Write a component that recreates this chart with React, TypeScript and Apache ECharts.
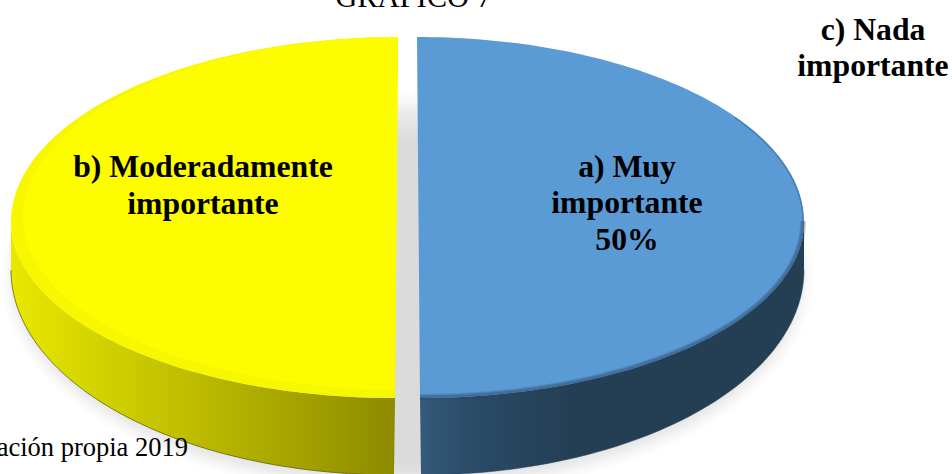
import React, { useEffect, useRef } from "react";
import * as echarts from "echarts";

const titleText = "GRAFICO 7";
const sourceText = "ación propia 2019";
const categories = ["a) Muy\nimportante\n50%", "b) Moderadamente\nimportante", "c) Nada\nimportante"];
const values = [50, 50, 0];
const topColors = ["#5b9bd5", "#f7f700", "#a5a5a5"];
const innerColors = ["#5b9bd5", "#fdfd00", "#a5a5a5"];
const sideStops: [number, string][][] = [
  [[0, "#36597a"], [0.15, "#2a4a66"], [0.4, "#243e54"], [1, "#243e54"]],
  [[0, "#e8e800"], [0.3, "#cccc00"], [0.62, "#b0ae00"], [1, "#8e8a00"]],
  [[0, "#666666"], [1, "#666666"]],
];
const edgeColors = ["rgba(40,70,100,0.5)", "rgba(95,90,0,0.75)", "#666666"];
const labelAnchors = [[627, 202.5], [203, 185], [873, 47.5]];

const G = { cx: 407.5, cy: 221, rx: 385.5, ryUp: 184, ryDown: 177, explode: 9.5, botRx: 383, botCy: 270, botRy: 205, botShift: 4, shear: 3, topY: 37 };
const total = values.reduce((a, b) => a + b, 0);

function arc(cx: number, cy: number, rx: number, ryUp: number, ryDown: number, a0: number, a1: number) {
  const pts: number[][] = [];
  const n = Math.max(2, Math.ceil(Math.abs(a1 - a0) / 0.02));
  for (let i = 0; i <= n; i++) {
    const t = a0 + ((a1 - a0) * i) / n;
    const s = Math.sin(t);
    pts.push([cx + rx * Math.cos(t), cy + (s < 0 ? ryUp : ryDown) * s]);
  }
  return pts;
}

function renderSlice(params: any) {
  const idx = params.dataIndex;
  let start = -Math.PI / 2;
  for (let i = 0; i < idx; i++) start += (values[i] / total) * Math.PI * 2;
  const end = start + (values[idx] / total) * Math.PI * 2;
  const children: any[] = [];
  if (values[idx] > 0) {
    const mid = (start + end) / 2;
    const dir = Math.cos(mid);
    const cx = G.cx + G.explode * dir;
    const sh = (p: number[]) => [p[0] + (dir * G.shear * (p[1] - G.topY)) / (G.ryUp + G.ryDown), p[1]];
    const lo = Math.max(start, 0);
    const hi = Math.min(end, Math.PI);
    if (hi > lo) {
      const topArc = arc(cx, G.cy, G.rx, G.ryUp, G.ryDown, lo, hi).map(sh);
      const botArc = arc(cx + G.botShift * dir, G.botCy, G.botRx, G.botRy, G.botRy, lo, hi);
      children.push({
        type: "polygon",
        shape: { points: topArc.concat(botArc.slice().reverse()) },
        style: {
          fill: new echarts.graphic.LinearGradient(0, 0, 1, 0,
            sideStops[idx].map(([offset, color]) => ({ offset, color }))),
        },
      });
      children.push({
        type: "polyline",
        shape: { points: botArc },
        style: { fill: "none", stroke: edgeColors[idx], lineWidth: 1 },
      });
    }
    const top = arc(cx, G.cy, G.rx, G.ryUp, G.ryDown, start, end).map(sh);
    children.push({
      type: "polygon",
      shape: { points: top },
      style: { fill: topColors[idx] },
    });
    if (dir < 0) {
      const inner = arc(cx + 6, G.cy - 4, G.rx - 6, G.ryUp - 4, G.ryDown - 4, start, end)
        .map(sh)
        .map(([x, y]) => [Math.min(x, sh([cx, y])[0]), y]);
      children.push({
        type: "polygon",
        shape: { points: inner },
        style: { fill: innerColors[idx] },
      });
    } else {
      children.push({
        type: "polyline",
        shape: { points: arc(cx, G.cy, G.rx - 1, G.ryUp - 1, G.ryDown - 1, -0.6, 0).map(sh) },
        style: { fill: "none", stroke: "rgba(40,70,100,0.35)", lineWidth: 1.5 },
      });
      [6, 4, 2].forEach((w) => {
        children.push({
          type: "polyline",
          shape: { points: arc(cx, G.cy, G.rx - 1, G.ryUp - 1, G.ryDown - 1, 0, end).map(sh) },
          style: { fill: "none", stroke: "rgba(40,70,100,0.22)", lineWidth: w },
        });
      });
    }
  }
  children.push({
    type: "text",
    z2: 50,
    style: {
      text: categories[idx],
      x: labelAnchors[idx][0],
      y: labelAnchors[idx][1],
      align: "center",
      verticalAlign: "middle",
      lineHeight: 36.5,
      fontFamily: "Liberation Serif",
      fontWeight: "bold",
      fontSize: 31.7,
      fill: "#000000",
    },
  });
  return { type: "group", children };
}

const shadowLayers = [14, 11, 8, 6, 4, 2, 0, -3, -6, -10, -14, -18];

function renderShadow() {
  return {
    type: "group",
    children: shadowLayers.map((d) => {
      const up = arc(G.cx, 278, 392 + d, 165 + d * 1.5, 0, Math.PI, Math.PI * 2);
      const dn = arc(G.cx, 278, 392 + d, 0, 205 + d, 0, Math.PI);
      return {
        type: "polygon",
        shape: { points: up.concat(dn) },
        style: { fill: "rgba(0,0,0,0.0105)" },
      };
    }),
  };
}

export default function App() {
  const ref = useRef<HTMLDivElement>(null);
  useEffect(() => {
    const chart = echarts.init(ref.current!, null, { renderer: "svg" });
    chart.setOption({
      animation: false,
      backgroundColor: "#ffffff",
      series: [
        { type: "custom", coordinateSystem: "none", silent: true, z: 1, data: [0], renderItem: renderShadow },
        {
          type: "custom",
          coordinateSystem: "none",
          silent: true,
          z: 2,
          data: categories.map((name, i) => ({ name, value: values[i] })),
          renderItem: renderSlice,
        },
      ],
      graphic: [
        {
          type: "text",
          z: 100,
          x: 413.5,
          y: 12,
          style: {
            text: titleText,
            align: "center",
            verticalAlign: "bottom",
            fontFamily: "Liberation Serif",
            fontSize: 30.5,
            fill: "#000000",
          },
        },
        {
          type: "text",
          z: 100,
          x: 188,
          y: 460,
          style: {
            text: sourceText,
            align: "right",
            verticalAlign: "bottom",
            fontFamily: "Liberation Serif",
            fontSize: 26.5,
            fill: "#000000",
          },
        },
      ],
    });
    return () => chart.dispose();
  }, []);
  return <div ref={ref} style={{ position: "fixed", left: 0, top: 0, width: 952, height: 474 }} />;
}
